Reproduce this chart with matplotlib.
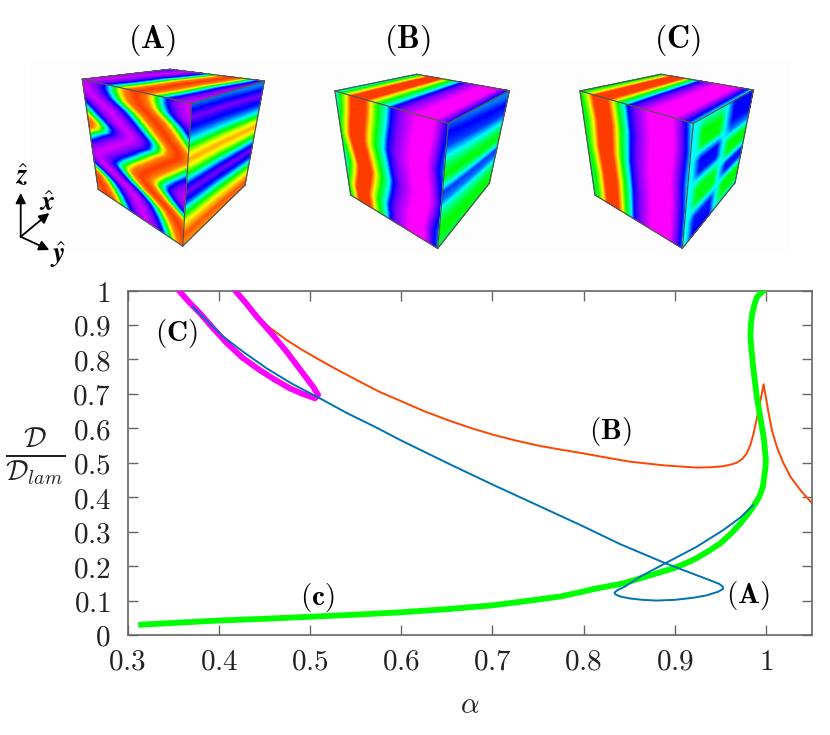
import numpy as np
import matplotlib
matplotlib.use("Agg")
import matplotlib.pyplot as plt
from matplotlib.colors import LinearSegmentedColormap
from matplotlib.patches import Rectangle

plt.rcParams['mathtext.fontset'] = 'cm'
plt.rcParams['font.family'] = 'serif'

# curves
green_x = [0.315, 0.35, 0.4, 0.45, 0.5, 0.55, 0.6, 0.65, 0.7, 0.75, 0.775, 0.796, 0.814, 0.844, 0.869, 0.899, 0.912, 0.924,
           0.938, 0.95, 0.962, 0.972, 0.98, 0.986, 0.9925, 0.9967, 0.9996, 0.9999, 0.9985, 0.9975, 0.9956, 0.993, 0.99,
           0.988, 0.986, 0.9845, 0.983, 0.9835, 0.985, 0.9875, 0.99, 0.994, 0.997]
green_y = [0.03, 0.035, 0.042, 0.047, 0.053, 0.059, 0.066, 0.075, 0.086, 0.103, 0.112, 0.124, 0.135, 0.15, 0.17, 0.194, 0.208, 0.223,
           0.245, 0.266, 0.295, 0.324, 0.35, 0.372, 0.4, 0.43, 0.488, 0.51, 0.55, 0.575, 0.604, 0.645, 0.69,
           0.735, 0.778, 0.82, 0.866, 0.9, 0.933, 0.96, 0.98, 0.992, 0.998]

blue_x = [0.3715, 0.388, 0.405, 0.428, 0.4526, 0.48, 0.511, 0.54, 0.573, 0.599, 0.65, 0.7, 0.75, 0.796, 0.84, 0.891, 0.9425,
          0.949, 0.953, 0.953, 0.948, 0.935, 0.92, 0.9, 0.88, 0.865, 0.851, 0.84, 0.835, 0.834, 0.837, 0.845, 0.862, 0.891,
          0.924, 0.9535, 0.972, 0.986]
blue_y = [0.953, 0.91, 0.866, 0.82, 0.774, 0.73, 0.687, 0.645, 0.602, 0.566, 0.5, 0.437, 0.376, 0.32, 0.264, 0.207, 0.155,
          0.148, 0.14, 0.134, 0.126, 0.115, 0.108, 0.102, 0.1, 0.102, 0.106, 0.112, 0.118, 0.123, 0.13, 0.14, 0.169, 0.21,
          0.256, 0.305, 0.341, 0.377]

orange_x = [0.4417, 0.457, 0.4746, 0.49, 0.5075, 0.53, 0.555, 0.577, 0.599, 0.625, 0.65, 0.675, 0.7, 0.725, 0.75, 0.775, 0.796,
            0.825, 0.851, 0.89, 0.924, 0.94, 0.9535, 0.962, 0.968, 0.974, 0.979, 0.983, 0.9865, 0.992, 0.9975, 1.0, 1.003,
            1.007, 1.012, 1.019, 1.027, 1.038, 1.05]
orange_y = [0.926, 0.89, 0.856, 0.83, 0.803, 0.77, 0.735, 0.705, 0.68, 0.65, 0.625, 0.602, 0.582, 0.565, 0.55, 0.538, 0.529,
            0.515, 0.503, 0.492, 0.486, 0.487, 0.49, 0.495, 0.5, 0.511, 0.527, 0.552, 0.585, 0.653, 0.728, 0.69, 0.643,
            0.59, 0.546, 0.5, 0.459, 0.42, 0.384]

magenta_x = [0.3576, 0.368, 0.3795, 0.394, 0.409, 0.426, 0.445, 0.461, 0.478, 0.492, 0.5056, 0.509, 0.5037, 0.49, 0.4746,
             0.458, 0.4417, 0.43, 0.418]
magenta_y = [0.996, 0.965, 0.934, 0.89, 0.847, 0.805, 0.769, 0.742, 0.716, 0.7, 0.687, 0.697, 0.72, 0.768, 0.822,
             0.875, 0.924, 0.963, 1.0]

x_ticks = [0.3, 0.4, 0.5, 0.6, 0.7, 0.8, 0.9, 1.0]
x_labels = ['0.3', '0.4', '0.5', '0.6', '0.7', '0.8', '0.9', '1']
y_ticks = [0, 0.1, 0.2, 0.3, 0.4, 0.5, 0.6, 0.7, 0.8, 0.9, 1.0]
y_labels = ['0', '0.1', '0.2', '0.3', '0.4', '0.5', '0.6', '0.7', '0.8', '0.9', '1']

# cube corners in picture pixels: top-left, back, top-right, front-top, front-bottom, left-bottom, right-bottom
corners_a = [(82.3, 79.3), (170, 69.3), (264.3, 81), (191.7, 103.3), (182.7, 246), (98.3, 189.3), (245, 185)]
corners_b = [(335, 91), (416.7, 74.3), (509.3, 90.7), (448.3, 123.3), (437.7, 248.3), (350.7, 195), (489.3, 183.3)]
corners_c = [(580, 91), (661, 74.3), (753.3, 90), (693.3, 123.3), (682.3, 248.3), (595, 195), (735, 182.7)]

# colour field of each face: a band profile across the face, and how far it moves along the face
a_band_x = [0, 0.1, 0.15, 0.19, 0.24, 0.29, 0.36, 0.475, 0.59, 0.66, 0.71, 0.76, 0.8, 0.85, 0.95]
a_band_v = [1.0, 0.93, 0.8, 0.6, 0.4, 0.2, 0.1, 0.03, 0.1, 0.2, 0.4, 0.6, 0.8, 0.93, 1.0]
a_left_along = [0, 0.05, 0.107, 0.15, 0.19, 0.26, 0.32, 0.36, 0.39, 0.43, 0.47, 0.526, 0.6, 0.65, 0.68, 0.72, 0.76, 0.8, 0.847, 0.915, 1]
a_left_move = [0.49, 0.49, 0.52, 0.58, 0.65, 0.74, 0.816, 0.875, 0.9, 0.885, 0.81, 0.72, 0.6, 0.535, 0.53, 0.59, 0.67, 0.79, 0.9, 0.98, 1.05]
a_top_along = [0, 0.3, 0.6, 1]
a_top_move = [0.49, 0.53, 0.55, 0.64]
a_right_x = [0, 0.1, 0.2, 0.26, 0.3, 0.35, 0.4, 0.45, 0.5, 0.54, 0.58, 0.63, 0.7, 0.74, 0.78, 0.84, 0.93, 1]
a_right_v = [0.3, 0.1, 0.25, 0.4, 0.58, 0.78, 0.88, 0.78, 0.58, 0.38, 0.2, 0.1, 0.25, 0.42, 0.6, 0.8, 0.97, 0.9]
a_right_along = [0, 0.5, 1]
a_right_move = [0, 0.01, 0.04]

b_band_x = [-0.1, 0, 0.05, 0.1, 0.14, 0.27, 0.32, 0.38, 0.46, 0.5, 0.57, 0.72, 0.88, 0.95, 1.0, 1.1]
b_band_v = [0.25, 0.4, 0.6, 0.8, 1.0, 1.0, 0.8, 0.6, 0.4, 0.2, 0.1, 0.0, 0.0, 0.1, 0.2, 0.4]
b_left_along = [0, 0.15, 0.3, 0.4, 0.5, 0.66, 0.75, 0.88, 1]
b_left_move = [0, -0.015, -0.04, -0.05, -0.03, 0.0, -0.015, -0.05, -0.04]
b_top_along = [0, 1]
b_top_move = [0.0, -0.02]
b_right_x = [0, 0.1, 0.2, 0.3, 0.38, 0.45, 0.52, 0.58, 0.65, 0.72, 0.8, 0.88, 1]
b_right_v = [0.3, 0.2, 0.25, 0.42, 0.55, 0.6, 0.45, 0.25, 0.3, 0.45, 0.55, 0.6, 0.55]
b_right_along = [0, 1]
b_right_move = [-0.02, 0.06]

c_band_x = [-0.1, 0.02, 0.08, 0.12, 0.25, 0.3, 0.34, 0.4, 0.43, 0.5, 0.62, 0.83, 0.9, 0.95, 1.0]
c_band_v = [0.4, 0.6, 0.8, 1.0, 1.0, 0.8, 0.6, 0.4, 0.2, 0.1, 0.0, 0.0, 0.1, 0.2, 0.4]
c_left_along = [0, 0.25, 0.5, 0.75, 1]
c_left_move = [-0.01, 0.01, 0.0, 0.02, 0.02]
c_top_along = [0, 1]
c_top_move = [0.0, -0.02]
# right face of C is a checker: two columns of cells on a cyan ground
c_col1_w = [0, 0.05, 0.12, 0.24, 0.29, 0.36, 0.47, 0.53, 0.6, 0.72, 0.78, 0.85, 1]
c_col1_v = [0.42, 0.5, 0.6, 0.58, 0.4, 0.2, 0.22, 0.4, 0.58, 0.58, 0.4, 0.22, 0.2]
c_col2_w = [0, 0.2, 0.3, 0.35, 0.42, 0.52, 0.58, 0.63, 0.7, 0.76, 0.82, 0.93, 1]
c_col2_v = [0.2, 0.2, 0.3, 0.42, 0.6, 0.58, 0.4, 0.22, 0.22, 0.42, 0.6, 0.58, 0.45]
c_col1_u = [0, 0.08, 0.2, 0.5, 0.6, 1]
c_col1_on = [0, 0, 1, 1, 0, 0]
c_col2_u = [0, 0.6, 0.72, 1]
c_col2_on = [0, 0, 1, 1]
c_ground = 0.4

rainbow = LinearSegmentedColormap.from_list(
    'rainbow_field', ['#ff00ff', '#0000ff', '#00ffff', '#00ff00', '#ffff00', '#ff3c00'])


def face_mesh(p00, p10, p01, p11, n=160):
    # a goes p00->p10, b goes p00->p01
    a, b = np.meshgrid(np.linspace(0, 1, n), np.linspace(0, 1, n))
    X = (1-a)*(1-b)*p00[0] + a*(1-b)*p10[0] + (1-a)*b*p01[0] + a*b*p11[0]
    Y = (1-a)*(1-b)*p00[1] + a*(1-b)*p10[1] + (1-a)*b*p01[1] + a*b*p11[1]
    return X, Y, a, b


def band_field(a, b, along, move, xp, vp, period=None):
    pos = a - np.interp(b, along, move)
    return np.interp(pos, xp, vp, period=period)


def draw_cube(ax, c, left_f, top_f, right_f):
    tl, bk, tr, ft, fb, lb, rb = c
    for (p00, p10, p01, p11), f in (((tl, ft, lb, fb), left_f), ((tl, ft, bk, tr), top_f), ((ft, fb, tr, rb), right_f)):
        X, Y, a, b = face_mesh(p00, p10, p01, p11)
        ax.pcolormesh(X, Y, f(a, b), cmap=rainbow, vmin=0, vmax=1, shading='gouraud')
    for p, q in ((tl, bk), (bk, tr), (tr, ft), (ft, tl), (ft, fb), (tl, lb), (lb, fb), (fb, rb), (rb, tr)):
        ax.plot([p[0], q[0]], [p[1], q[1]], color='#555555', lw=0.9)


def c_right_field(a, b):
    # a runs down the face here, b along it
    col1 = np.interp(a, c_col1_w, c_col1_v) - c_ground
    col2 = np.interp(a, c_col2_w, c_col2_v) - c_ground
    return c_ground + np.interp(b, c_col1_u, c_col1_on)*col1 + np.interp(b, c_col2_u, c_col2_on)*col2


fig = plt.figure(figsize=(8.3, 7.35), dpi=100)

# cubes and labels in pixel coordinates
top = fig.add_axes([0, 0, 1, 1])
top.set_xlim(0, 830)
top.set_ylim(735, 0)
top.axis('off')
top.add_patch(Rectangle((30, 60), 760, 190, color='#fdfdfd', lw=0))

draw_cube(top, corners_a,
          lambda a, b: band_field(a, b, a_left_along, a_left_move, a_band_x, a_band_v, period=0.95),
          lambda a, b: band_field(a, b, a_top_along, a_top_move, a_band_x, a_band_v, period=0.95),
          lambda a, b: band_field(a, b, a_right_along, a_right_move, a_right_x, a_right_v))
draw_cube(top, corners_b,
          lambda a, b: band_field(a, b, b_left_along, b_left_move, b_band_x, b_band_v),
          lambda a, b: band_field(a, b, b_top_along, b_top_move, b_band_x, b_band_v),
          lambda a, b: band_field(a, b, b_right_along, b_right_move, b_right_x, b_right_v))
draw_cube(top, corners_c,
          lambda a, b: band_field(a, b, c_left_along, c_left_move, c_band_x, c_band_v),
          lambda a, b: band_field(a, b, c_top_along, c_top_move, c_band_x, c_band_v),
          c_right_field)

for name, px in (('A', 152), ('B', 407), ('C', 677)):
    top.text(px, 40, r'$\mathbf{(%s)}$' % name, fontsize=23, ha='center', va='center')

# axis triad
origin = (20.7, 236.7)
for end in ((20.7, 193), (49.3, 213), (49.3, 250)):
    top.annotate('', xy=end, xytext=origin,
                 arrowprops=dict(arrowstyle='-|>', color='black', lw=1.3, shrinkA=0, shrinkB=0, mutation_scale=15))
top.text(21.7, 177, r'$\hat{\mathbfit{z}}$', fontsize=20, ha='center', va='center')
top.text(46.7, 203, r'$\hat{\mathbfit{x}}$', fontsize=20, ha='center', va='center')
top.text(58.3, 255, r'$\hat{\mathbfit{y}}$', fontsize=20, ha='center', va='center')

# main plot
ax = fig.add_axes([127.5/830, 1-635/735, 684/830, 344.5/735])
ax.patch.set_alpha(0)
ax.plot(orange_x, orange_y, color='#ff4500', lw=1.4)
ax.plot(blue_x, blue_y, color='#0072b2', lw=1.4, zorder=4)
ax.plot(green_x, green_y, color='#00ff00', lw=4.2, zorder=3)
ax.plot(magenta_x, magenta_y, color='#ff00ff', lw=4.2, zorder=3)
ax.set_xlim(0.3, 1.05)
ax.set_ylim(0, 1)
ax.set_xticks(x_ticks)
ax.set_xticklabels(['$%s$' % t for t in x_labels])
ax.set_yticks(y_ticks)
ax.set_yticklabels(['$%s$' % t for t in y_labels])
ax.tick_params(direction='in', top=True, right=True, length=7, width=1, color='#666666',
               labelsize=21, labelcolor='#222222')
ax.tick_params(axis='x', pad=9)
ax.tick_params(axis='y', pad=12)
for s in ax.spines.values():
    s.set_color('#666666')
    s.set_linewidth(1.2)

top.text(176, 333, r'$\mathbf{(C)}$', fontsize=21, ha='center', va='center', zorder=10)
top.text(610, 431, r'$\mathbf{(B)}$', fontsize=21, ha='center', va='center', zorder=10)
top.text(748, 596, r'$\mathbf{(A)}$', fontsize=21, ha='center', va='center', zorder=10)
top.text(317, 597, r'$\mathbf{(c)}$', fontsize=21, ha='center', va='center', zorder=10)
top.text(470, 705, r'$\alpha$', fontsize=21, ha='center', va='center', color='#222222')
top.text(35.5, 457, r'$\frac{\mathcal{D}}{\mathcal{D}_{lam}}$', fontsize=29, ha='center', va='center', color='#222222')

fig.savefig('out.png', dpi=100)
